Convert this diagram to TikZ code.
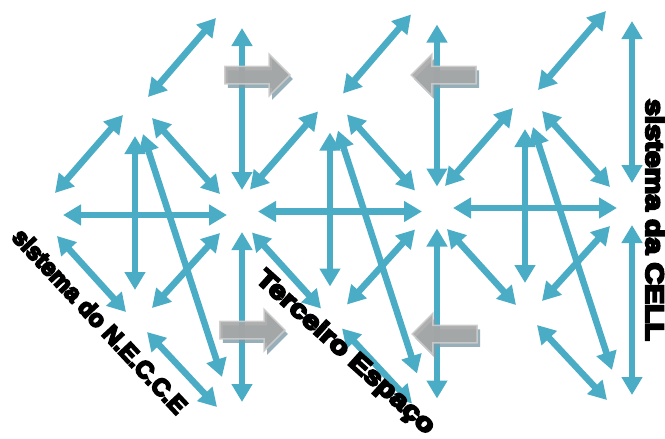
\documentclass[tikz,border=0pt]{standalone}
\usepackage{fontspec}
\newfontfamily\heavyfont[FakeBold=8]{Liberation Sans Bold}
\usetikzlibrary{arrows.meta, positioning, shapes.arrows, shadows}
\definecolor{linkblue}{RGB}{75, 172, 198}
\definecolor{handgray}{RGB}{166, 166, 166}
\definecolor{shadowgray}{RGB}{125, 155, 168}

\begin{document}
\begin{tikzpicture}[x=1pt, y=-1pt,
    link/.style={draw=linkblue, line width=6.5pt,
        {Triangle[width=20pt, length=18pt]}-{Triangle[width=20pt, length=18pt]}},
    handoff/.style={single arrow, draw=black!20, line width=1.5pt, fill=handgray,
        fill opacity=0.9, draw opacity=0.9, minimum height=65pt, inner sep=8pt,
        single arrow head extend=12pt, anchor=tip,
        drop shadow={shadow xshift=3pt, shadow yshift=-4pt, fill=shadowgray, opacity=0.8}},
    systext/.style={font=\heavyfont\fontsize{24}{24}\selectfont, inner sep=0pt}]
    \useasboundingbox (0,0) rectangle (665,439);

    % Three systems, each a star of links
    \foreach \i in {0,1,2} {
        \begin{scope}[shift={(195*\i,-3.5*\i)}]
            \draw[link] (148,97) -- (216,18);
            \draw[link] (55,193) -- (123,115);
            \draw[link] (152,118) -- (220,194);
            \draw[link] (135,136) -- (135,290);
            \draw[link] (143,134) -- (222,377);
            \draw[link] (63,215) -- (227,215);
            \draw[link] (57,236) -- (126,312);
            \draw[link] (152,308) -- (220,233);
            \draw[link] (147,332) -- (217,407);
            \draw[link] (242,28) -- (242,190);
            \draw[link] (242,232) -- (242,402);
        \end{scope}
    }

    % Exchanges between the systems
    \node[handoff] (handTL) at (291,75) {};
    \node[handoff, shape border rotate=180] (handTR) at (410,75) {};
    \node[handoff] (handBL) at (286,330) {};
    \node[handoff, shape border rotate=180] (handBR) at (411,334) {};

    % Labels
    \node[systext, rotate=-47] (necce) at (100,321) {sistema do N.E.C.C.E};
    \node[systext, rotate=-42, xscale=1.25, yscale=1.05] (terceiro) at (345,353) {Terceiro Espaço};
    \node[systext, rotate=-90, xscale=1.25, yscale=1.05] (cell) at (655,220) {sistema da CELL};
\end{tikzpicture}
\end{document}
